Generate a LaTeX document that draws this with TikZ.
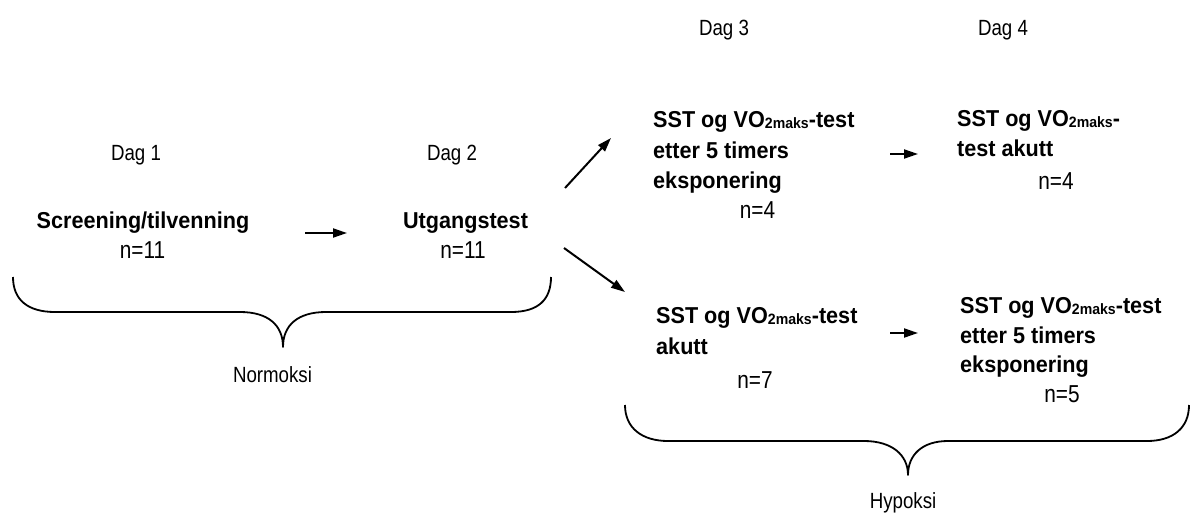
\documentclass[tikz,border=0pt]{standalone}
\usepackage{fontspec}
\setmainfont{Liberation Sans}
\newfontfamily\regf[FakeStretch=0.85]{Liberation Sans}
\newfontfamily\boldf[FakeStretch=0.94]{Liberation Sans}
\usetikzlibrary{arrows.meta}
\newcommand\vomaks{VO\raisebox{-1.5pt}{\fontsize{15}{15}\selectfont 2maks}}
\tikzset{
  lbl/.style={inner sep=0pt, font=\regf\fontsize{22}{26}\selectfont},
  nlbl/.style={inner sep=0pt, font=\regf\fontsize{24.5}{28}\selectfont},
  btxt/.style={inner sep=0pt, font=\boldf\bfseries\fontsize{23}{30}\selectfont},
  arr/.style={line width=2pt, -{Triangle[length=14pt,width=9pt]}},
  brace/.style={line width=1.8pt, line join=round},
}
\begin{document}
\begin{tikzpicture}[x=1pt,y=-1pt]
\useasboundingbox (0,0) rectangle (1191,514);
% day labels
\node[lbl,anchor=base] (dag1) at (136,160) {Dag 1};
\node[lbl,anchor=base] (dag2) at (452,160) {Dag 2};
\node[lbl,anchor=base] (dag3) at (724,35) {Dag 3};
\node[lbl,anchor=base] (dag4) at (1003,35) {Dag 4};
% day 1 and 2
\node[btxt,anchor=base] (scr) at (143,228) {Screening/tilvenning};
\node[nlbl,anchor=base] (scrn) at (142.5,258) {n=11};
\node[btxt,anchor=base] (utg) at (465.5,228) {Utgangstest};
\node[nlbl,anchor=base] (utgn) at (463,258) {n=11};
% day 3 upper
\node[btxt,anchor=base west] (a1) at (653,127) {SST og \vomaks-test};
\node[btxt,anchor=base west] (a2) at (653,158) {etter 5 timers};
\node[btxt,anchor=base west] (a3) at (653,188) {eksponering};
\node[nlbl,anchor=base] (an) at (757.5,218) {n=4};
% day 4 upper
\node[btxt,anchor=base west] (b1) at (957,126) {SST og \vomaks-};
\node[btxt,anchor=base west] (b2) at (957,156) {test akutt};
\node[nlbl,anchor=base] (bn) at (1056,189) {n=4};
% day 3 lower
\node[btxt,anchor=base west] (c1) at (656,323) {SST og \vomaks-test};
\node[btxt,anchor=base west] (c2) at (656,354) {akutt};
\node[nlbl,anchor=base] (cn) at (755,388) {n=7};
% day 4 lower
\node[btxt,anchor=base west] (d1) at (960,313) {SST og \vomaks-test};
\node[btxt,anchor=base west] (d2) at (960,343) {etter 5 timers};
\node[btxt,anchor=base west] (d3) at (960,372) {eksponering};
\node[nlbl,anchor=base] (dn) at (1062,402) {n=5};
% group labels
\node[lbl,anchor=base] (norm) at (272.5,382) {Normoksi};
\node[lbl,anchor=base] (hyp) at (903,508) {Hypoksi};
% arrow end points
\coordinate (p1s) at (305,233); \coordinate (p1e) at (347,233);
\coordinate (p2s) at (565,188); \coordinate (p2e) at (611,138);
\coordinate (p3s) at (564,248); \coordinate (p3e) at (625,292);
\coordinate (p4s) at (890,154); \coordinate (p4e) at (918,154);
\coordinate (p5s) at (890,333); \coordinate (p5e) at (918,333);
\draw[arr] (p1s) -- (p1e);
\draw[arr] (p2s) -- (p2e);
\draw[arr] (p3s) -- (p3e);
\draw[arr] (p4s) -- (p4e);
\draw[arr] (p5s) -- (p5e);
% braces
\draw[brace] (13,277) .. controls (13,300) and (28,312) .. (55,312) -- (240,312)
  .. controls (268,312) and (283,325) .. (283,347)
  .. controls (283,325) and (298,312) .. (326,312) -- (511,312)
  .. controls (538,312) and (551,300) .. (551,277);
\draw[brace] (625,405) .. controls (625,428) and (642,441) .. (668,441) -- (864,441)
  .. controls (892,441) and (908,455) .. (908,475)
  .. controls (908,455) and (922,441) .. (948,441) -- (1147,441)
  .. controls (1173,441) and (1189,428) .. (1189,405);
\end{tikzpicture}
\end{document}
